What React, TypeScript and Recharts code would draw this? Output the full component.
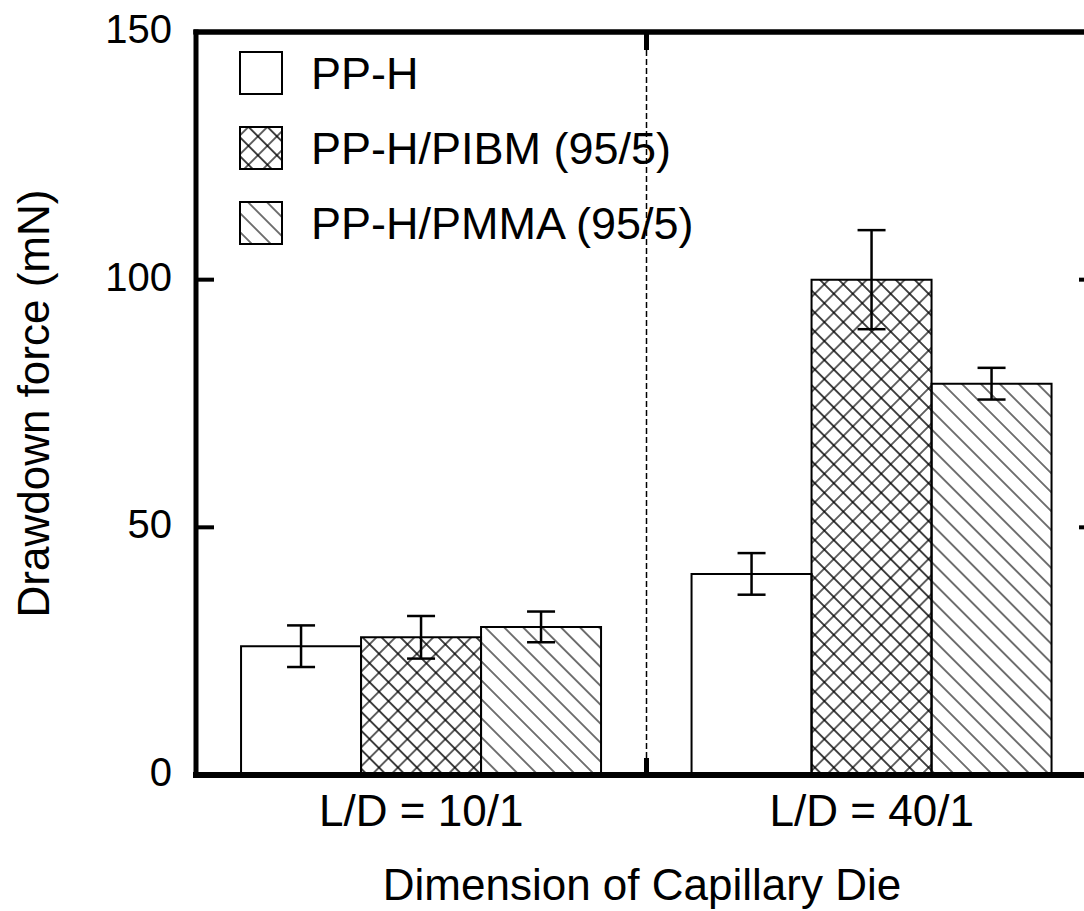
import React from 'react'
import { BarChart, Bar, XAxis, YAxis, ErrorBar, ReferenceLine } from 'recharts'

// values (mN)
const dies = ['L/D = 10/1', 'L/D = 40/1']
const ppH = [26, 40.6]
const ppHErr = [4.2, 4.2]
const pibm = [27.8, 100]
const pibmErr = [4.3, 10]
const pmma = [29.9, 79]
const pmmaErr = [3.1, 3.2]
const yTicks = [0, 50, 100, 150]
const innerTicks = [50, 100]
const yMax = 150

const series = [
  { key: 'ppH', name: 'PP-H', fill: '#fff' },
  { key: 'pibm', name: 'PP-H/PIBM (95/5)', fill: 'url(#crossHatch)' },
  { key: 'pmma', name: 'PP-H/PMMA (95/5)', fill: 'url(#diagHatch)' },
]

const data = dies.map((die, i) => ({
  die,
  ppH: ppH[i],
  ppHErr: ppHErr[i],
  pibm: pibm[i],
  pibmErr: pibmErr[i],
  pmma: pmma[i],
  pmmaErr: pmmaErr[i],
}))

const FONT = 'Arial, "Liberation Sans", sans-serif'

function Patterns() {
  return (
    <svg width={0} height={0} style={{ position: 'absolute' }}>
      <defs>
        <pattern id="crossHatch" width={13.4} height={13.4} patternUnits="userSpaceOnUse" patternTransform="rotate(45)">
          <path d="M0,6.7 H13.4 M6.7,0 V13.4" stroke="#000" strokeWidth={1.2} />
        </pattern>
        <pattern id="diagHatch" width={13.4} height={13.4} patternUnits="userSpaceOnUse" patternTransform="rotate(45)">
          <path d="M0,6.7 H13.4" stroke="#000" strokeWidth={1.1} />
        </pattern>
      </defs>
    </svg>
  )
}

const leftTick = (props: any) => {
  const { x, y, payload } = props
  return (
    <text x={x} y={y - 3} dy="0.35em" textAnchor="end" fontSize={40} fill="#000">
      {payload.value}
    </text>
  )
}

// legend drawn as an overlay in the top-left of the plot
function LegendBox() {
  return (
    <svg width={520} height={220} style={{ position: 'absolute', top: 51, left: 239, overflow: 'visible' }}>
      {series.map((s, i) => (
        <g key={s.key}>
          <rect x={1} y={i * 75 + 1} width={42} height={42} fill={s.fill} stroke="#000" strokeWidth={2} />
          <text x={72} y={i * 75 + 22} dy="0.36em" fontSize={45} fill="#000" fontFamily={FONT}>
            {s.name}
          </text>
        </g>
      ))}
    </svg>
  )
}

const DividerShape = (props: any) => {
  const { x1, y1, y2 } = props
  const top = Math.min(y1, y2)
  const bottom = Math.max(y1, y2)
  return (
    <g>
      <line x1={x1} x2={x1} y1={top} y2={bottom} stroke="#000" strokeWidth={1.5} strokeDasharray="6 3" />
      <line x1={x1} x2={x1} y1={top} y2={top + 18} stroke="#000" strokeWidth={5} />
      <line x1={x1} x2={x1} y1={bottom - 17} y2={bottom} stroke="#000" strokeWidth={5} />
    </g>
  )
}

// inward tick stubs on both vertical frame lines
const TickStubs = (props: any) => {
  const { x1, x2, y1 } = props
  const l = Math.min(x1, x2)
  const r = Math.max(x1, x2)
  return (
    <g>
      <rect x={l - 2} y={y1 - 2} width={20} height={4} fill="#000" />
      <rect x={r - 18} y={y1 - 2} width={18} height={4} fill="#000" />
    </g>
  )
}

const frame = { stroke: '#000', strokeWidth: 5, strokeLinecap: 'square' as const }

export default function App() {
  return (
    <div style={{ position: 'relative', width: 1084, height: 911, overflow: 'hidden', fontFamily: FONT, background: '#fff' }}>
      <style>{'body{margin:0}'}</style>
      <Patterns />
      <BarChart
        width={1110}
        height={911}
        data={data}
        margin={{ top: 31, right: 12, bottom: 0, left: 0 }}
        barCategoryGap="10%"
        barGap={0}
      >
        <XAxis
          dataKey="die"
          height={136}
          tickLine={false}
          tickSize={0}
          tickMargin={20}
          tick={{ fontSize: 44, fill: '#000' }}
          axisLine={{ stroke: '#000', strokeWidth: 6, strokeLinecap: 'square' }}
          label={() => (
            <text x={642} y={900} textAnchor="middle" fontSize={44} fill="#000">
              Dimension of Capillary Die
            </text>
          )}
        />
        <XAxis
          xAxisId="top"
          dataKey="die"
          orientation="top"
          height={1}
          tick={false}
          tickLine={false}
          axisLine={frame}
        />
        <YAxis
          width={196}
          domain={[0, yMax]}
          ticks={yTicks}
          interval={0}
          tickLine={false}
          tickSize={0}
          tickMargin={24}
          tick={leftTick}
          axisLine={frame}
          label={(p: any) => {
            const vb = p.viewBox || { y: 32, height: 743 }
            const cy = vb.y + vb.height / 2
            return (
              <text x={49} y={cy} transform={`rotate(-90, 49, ${cy})`} textAnchor="middle" fontSize={44} fill="#000">
                Drawdown force (mN)
              </text>
            )
          }}
        />
        <YAxis
          yAxisId="right"
          orientation="right"
          width={1}
          domain={[0, yMax]}
          ticks={yTicks}
          tickLine={false}
          tick={false}
          axisLine={frame}
        />
        {series.map((s) => (
          <Bar
            key={s.key}
            dataKey={s.key}
            name={s.name}
            fill={s.fill}
            stroke="#000"
            strokeWidth={2}
            isAnimationActive={false}
          >
            <ErrorBar dataKey={`${s.key}Err`} width={14} strokeWidth={2.5} stroke="#000" isAnimationActive={false} />
          </Bar>
        ))}
        <ReferenceLine y={yMax} stroke="#000" strokeWidth={5} strokeLinecap="square" />
        <ReferenceLine x={dies[0]} position="end" shape={<DividerShape />} />
        {innerTicks.map((v) => (
          <ReferenceLine key={v} y={v} ifOverflow="visible" shape={<TickStubs />} />
        ))}
      </BarChart>
      <LegendBox />
    </div>
  )
}
